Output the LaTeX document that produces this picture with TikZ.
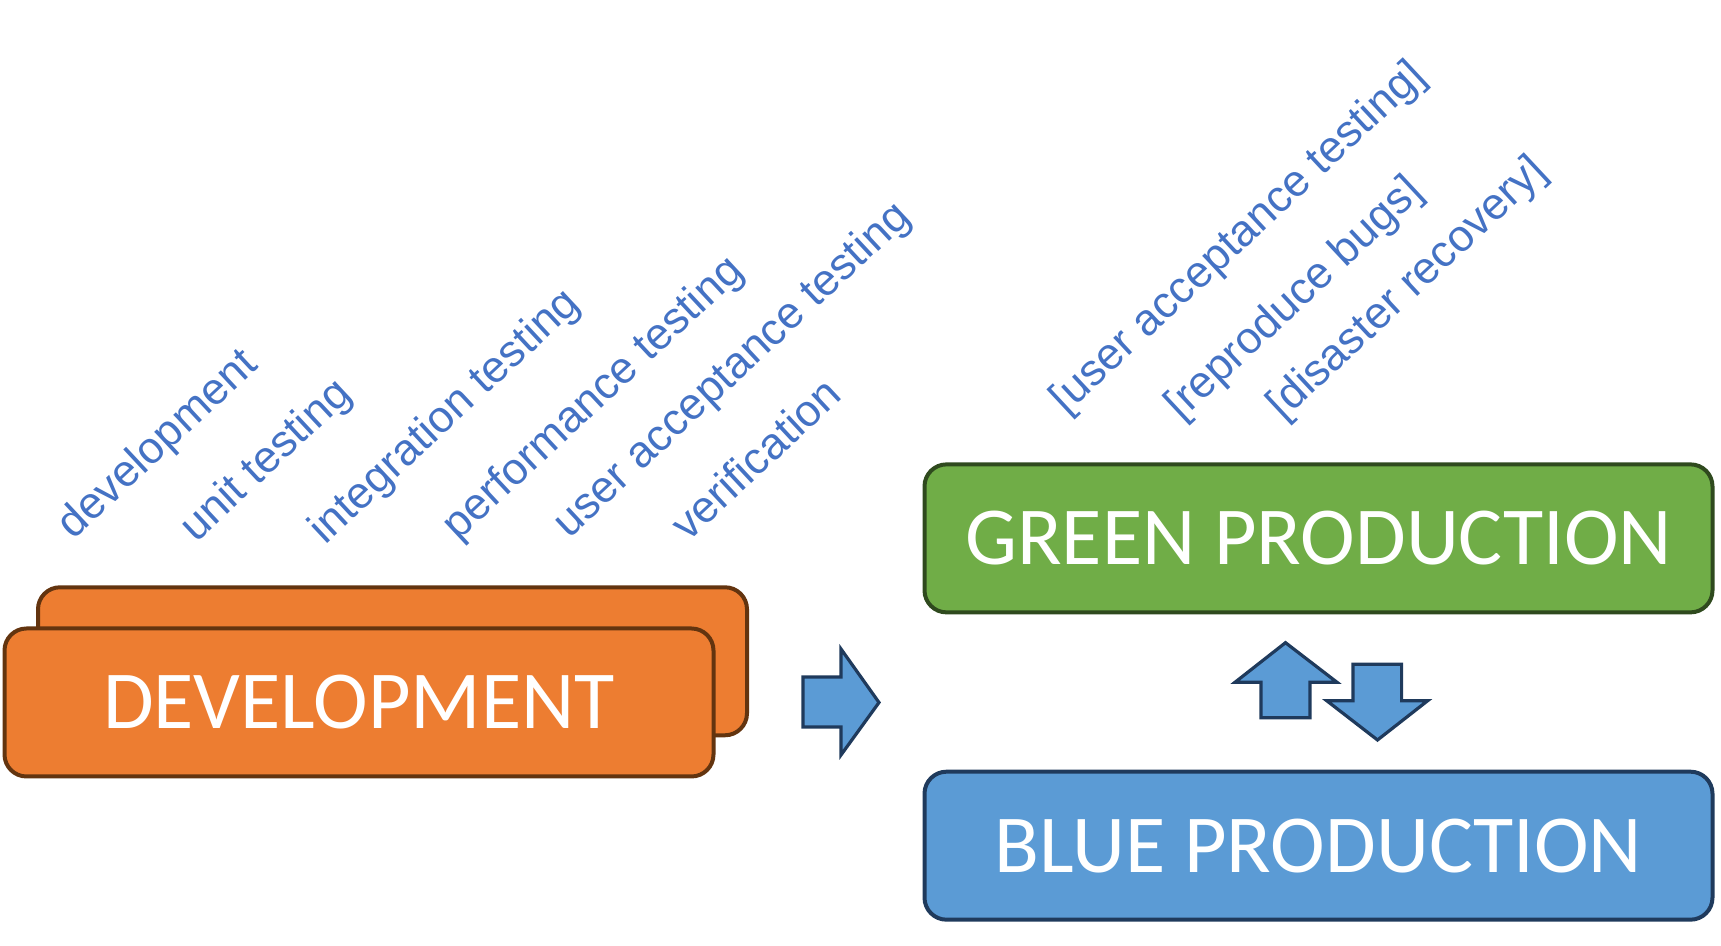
\documentclass[tikz,border=0pt]{standalone}
\usepackage{fontspec}
\setmainfont{Carlito}
\newfontfamily\labelfont{Liberation Sans}
\usepackage{tikz}
\definecolor{devorange}{HTML}{ED7D31}
\definecolor{devline}{HTML}{63340F}
\definecolor{greenfill}{HTML}{70AD47}
\definecolor{greenline}{HTML}{2F4A1E}
\definecolor{bluefill}{HTML}{5B9BD5}
\definecolor{blueline}{HTML}{1F3A5C}
\definecolor{labelblue}{HTML}{4472C4}

\begin{document}
\begin{tikzpicture}[x=0.5pt, y=0.5pt,
    stage/.style={rounded corners=11pt, line width=2pt, minimum height=74pt, inner sep=0pt,
        text=white, font=\fontsize{41.2}{48}\selectfont},
    lbl/.style={rotate=43, anchor=base west, inner sep=0pt, text=labelblue,
        font=\labelfont\fontsize{22.2}{27}\selectfont},
    blockarrow/.style={fill=bluefill, draw=blueline, line width=1.6pt, line join=miter}]
    \useasboundingbox (0,0) rectangle (1721,946);

    % Development stack
    \node[stage, fill=devorange, draw=devline, minimum width=354.5pt] (devback) at (392.5,284.7) {};
    \node[stage, fill=devorange, draw=devline, minimum width=354.5pt] (dev) at (359,243.5) {DEVELOPMENT};

    % Development stages
    \node[lbl] (ldev) at (73,405) {development};
    \node[lbl] (lunit) at (196,402.5) {unit testing};
    \node[lbl] (lint) at (325,400.5) {integration testing};
    \node[lbl] (lperf) at (458,404.5) {performance testing};
    \node[lbl] (luat) at (569,406.5) {user acceptance testing};
    \node[lbl] (lver) at (688,403.5) {verification};

    % Promote arrow
    \draw[blockarrow] (803,269) -- (841,269) -- (841,297) -- (879,243.5)
        -- (841,191) -- (841,219) -- (803,219) -- cycle;

    % Production pair
    \node[stage, fill=greenfill, draw=greenline, minimum width=394pt] (green) at (1318.5,407.6) {GREEN PRODUCTION};
    \node[stage, fill=bluefill, draw=blueline, minimum width=394pt] (blue) at (1318.5,100.3) {BLUE PRODUCTION};

    % Green uses
    \node[lbl] (guat) at (1066,530.5) {[user acceptance testing]};
    \node[lbl] (gbugs) at (1181,524.5) {[reproduce bugs]};
    \node[lbl] (gdr) at (1283,524.5) {[disaster recovery]};

    % Swap arrows
    \draw[blockarrow] (1261,228.3) -- (1261,263.7) -- (1235,263.7) -- (1285.5,303.3)
        -- (1337,263.7) -- (1310,263.7) -- (1310,228.3) -- cycle;
    \draw[blockarrow] (1353,281.7) -- (1401.6,281.7) -- (1401.6,245.3) -- (1427.7,245.3)
        -- (1377.5,206) -- (1326.7,245.3) -- (1353,245.3) -- cycle;
\end{tikzpicture}
\end{document}
